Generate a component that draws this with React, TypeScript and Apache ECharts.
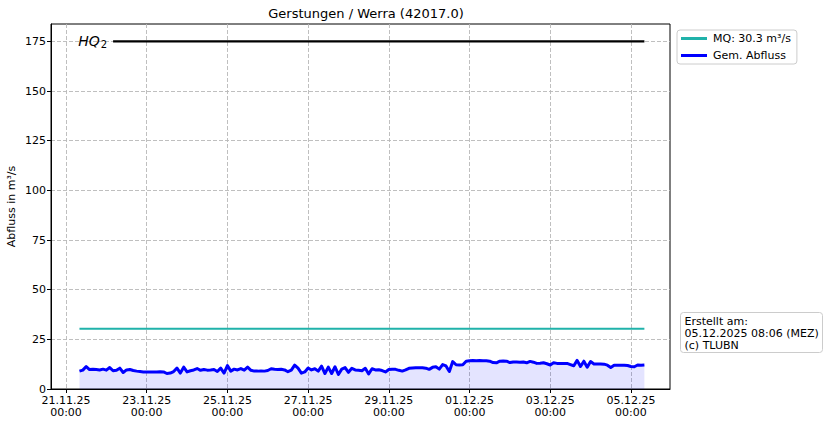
import React, { useEffect, useRef } from "react";
import * as echarts from "echarts";

const TITLE = "Gerstungen / Werra (42017.0)";
const START_UTC = Date.UTC(2025, 10, 21, 8, 0);
const STEP_HOURS = 2;
const MQ = 30.3;
const HQ2 = 175;
const HQ2_START_INDEX = 10;

// Gemessener Abfluss (m³/s), 2-hourly from 21.11.2025 08:00
const flowValues = [
  9.0, 9.5, 11.3, 9.8, 10.0, 9.8, 9.6, 10.0, 9.5, 10.8,
  9.2, 9.4, 10.5, 8.3, 9.6, 9.8, 9.3, 9.0, 8.8, 8.6,
  8.5, 8.5, 8.6, 8.6, 8.7, 8.6, 7.8, 8.0, 8.8, 10.5,
  8.0, 11.0, 8.6, 9.2, 9.6, 10.3, 9.4, 9.8, 9.5, 9.6,
  9.8, 8.8, 10.5, 8.0, 11.8, 9.0, 10.0, 9.6, 10.3, 9.5,
  11.0, 9.4, 9.0, 9.0, 9.1, 9.0, 9.3, 10.2, 9.9, 9.8,
  9.9, 9.6, 8.7, 9.5, 12.0, 10.5, 8.0, 8.6, 10.6, 9.6,
  10.2, 9.0, 11.5, 7.8, 11.0, 7.8, 11.2, 7.3, 10.0, 10.8,
  8.4, 10.4, 9.6, 9.4, 9.2, 10.4, 7.6, 10.2, 9.6, 9.7,
  9.3, 8.6, 9.8, 10.0, 9.9, 9.4, 9.0, 9.6, 10.4, 10.6,
  10.7, 10.7, 10.7, 10.5, 9.9, 10.9, 11.2, 10.0, 12.3, 11.6,
  8.8, 13.8, 12.2, 12.1, 12.2, 14.0, 14.2, 14.3, 14.2, 14.3,
  14.2, 14.2, 14.0, 13.3, 13.2, 14.0, 14.1, 14.0, 13.3, 13.6,
  13.6, 13.5, 13.6, 13.2, 13.9, 13.5, 12.9, 13.0, 13.2, 12.7,
  12.1, 13.2, 12.9, 12.9, 12.8, 12.9, 12.3, 11.7, 14.4, 11.3,
  14.0, 11.0, 13.8, 12.6, 12.6, 12.6, 12.5, 12.0, 10.8, 11.9,
  11.9, 11.9, 11.9, 11.8, 11.3, 11.2, 12.1, 12.0, 12.1,
];

const xTickDays = [
  [2025, 10, 21], [2025, 10, 23], [2025, 10, 25], [2025, 10, 27],
  [2025, 10, 29], [2025, 11, 1], [2025, 11, 3], [2025, 11, 5],
];
const yTicks = [0, 25, 50, 75, 100, 125, 150, 175];

const FONT = "DejaVu Sans";
const DAY = 24 * 3600 * 1000;

function pad(n: number) {
  return n < 10 ? "0" + n : String(n);
}

export default function App() {
  const ref = useRef<HTMLDivElement>(null);

  useEffect(() => {
    if (!ref.current) return;
    const chart = echarts.init(ref.current, undefined, { renderer: "svg" });

    const times = flowValues.map((_, i) => START_UTC + i * STEP_HOURS * 3600 * 1000);
    const flowData = flowValues.map((v, i) => [times[i], v]);
    const mqData = times.map((t) => [t, MQ]);
    const hqData: any[] = times.slice(HQ2_START_INDEX).map((t, i) =>
      i === 0
        ? {
            value: [t, HQ2],
            label: {
              show: true,
              position: "left",
              distance: 6,
              formatter: "{a|HQ}{b|2}",
              rich: {
                a: { fontStyle: "italic", fontSize: 14, fontFamily: FONT, color: "#000" },
                b: { fontSize: 10, fontFamily: FONT, color: "#000", padding: [7, 0, 0, 1] },
              },
            },
          }
        : [t, HQ2]
    );
    const xTicks = xTickDays.map(([y, m, d]) => Date.UTC(y, m, d, 0, 0));
    const xMin = xTicks[0] - 0.372 * DAY;
    const xMax = xMin + 15.34 * DAY;

    const mqName = `MQ: ${MQ} m³/s`;

    chart.setOption({
      animation: false,
      backgroundColor: "#ffffff",
      textStyle: { fontFamily: FONT },
      title: {
        text: TITLE,
        left: 361,
        top: 2,
        textAlign: "center",
        textStyle: { fontFamily: FONT, fontSize: 13, fontWeight: "normal", color: "#000" },
      },
      legend: {
        orient: "vertical",
        left: 677,
        top: 30,
        padding: [2, 6, 2, 4],
        itemGap: 4,
        itemWidth: 26,
        itemHeight: 3,
        icon: "rect",
        borderColor: "#cccccc",
        borderWidth: 1,
        borderRadius: 3,
        textStyle: { fontFamily: FONT, fontSize: 11, color: "#000", padding: [0, 0, 0, 1], lineHeight: 13 },
        data: [mqName, "Gem. Abfluss"],
      },
      grid: {
        left: 51,
        right: 157,
        top: 24,
        bottom: 37,
        show: true,
        borderColor: "#000",
        borderWidth: 1,
        backgroundColor: "transparent",
        outerBoundsMode: "none",
        containLabel: false,
      },
      xAxis: {
        type: "value",
        min: xMin,
        max: xMax,
        axisLine: { show: true, lineStyle: { color: "#000", width: 1 } },
        axisTick: { show: true, length: 4, lineStyle: { color: "#000" }, customValues: xTicks },
        splitLine: {
          show: true,
          lineStyle: { color: "#b8b8b8", type: [4, 2], width: 0.9 },
        },
        axisLabel: {
          customValues: xTicks,
          margin: 5,
          fontFamily: FONT,
          fontSize: 11,
          lineHeight: 12,
          color: "#000",
          hideOverlap: false,
          formatter: (v: number) => {
            const d = new Date(v);
            return (
              pad(d.getUTCDate()) + "." + pad(d.getUTCMonth() + 1) + "." + pad(d.getUTCFullYear() % 100) +
              "\n" + pad(d.getUTCHours()) + ":" + pad(d.getUTCMinutes())
            );
          },
        },
      },
      yAxis: {
        type: "value",
        min: 0,
        max: HQ2 * 1.05,
        name: "Abfluss in m³/s",
        nameLocation: "middle",
        nameGap: 34,
        nameMoveOverlap: false,
        nameTextStyle: { fontFamily: FONT, fontSize: 11, color: "#000" },
        axisLine: { show: true, lineStyle: { color: "#000", width: 1 } },
        axisTick: { show: true, length: 4, lineStyle: { color: "#000" }, customValues: yTicks },
        splitLine: {
          show: true,
          lineStyle: { color: "#b8b8b8", type: [4, 2], width: 0.9 },
        },
        axisLabel: {
          customValues: yTicks,
          margin: 5,
          fontFamily: FONT,
          fontSize: 11,
          color: "#000",
        },
      },
      series: [
        {
          name: "HQ2",
          type: "line",
          data: hqData,
          symbol: "circle",
          symbolSize: 0,
          showSymbol: true,
          lineStyle: { color: "#000", width: 2.2 },
          itemStyle: { color: "#000" },
          z: 3,
        },
        {
          name: mqName,
          type: "line",
          data: mqData,
          symbol: "none",
          color: "#20b2aa",
          lineStyle: { color: "#20b2aa", width: 2 },
          z: 3,
        },
        {
          name: "Gem. Abfluss",
          type: "line",
          data: flowData,
          symbol: "none",
          color: "#0000ff",
          lineStyle: { color: "#0000ff", width: 3, join: "round" },
          areaStyle: { color: "rgba(0,0,255,0.15)" },
          z: 4,
        },
      ],
      graphic: [
        {
          type: "group",
          left: 680,
          top: 312,
          children: [
            {
              type: "rect",
              shape: { x: 0, y: 0, width: 142, height: 40, r: 3 },
              style: { fill: "#ffffff", stroke: "#cccccc", lineWidth: 1 },
            },
            {
              type: "text",
              x: 4,
              y: 3,
              style: {
                text: "Erstellt am:\n05.12.2025 08:06 (MEZ)\n(c) TLUBN",
                font: `11px "${FONT}"`,
                lineHeight: 12,
                fill: "#000",
              },
            },
          ],
        },
      ],
    });

    return () => chart.dispose();
  }, []);

  return (
    <div
      ref={ref}
      style={{ position: "fixed", left: 0, top: 0, width: 827, height: 426, background: "#fff" }}
    />
  );
}
